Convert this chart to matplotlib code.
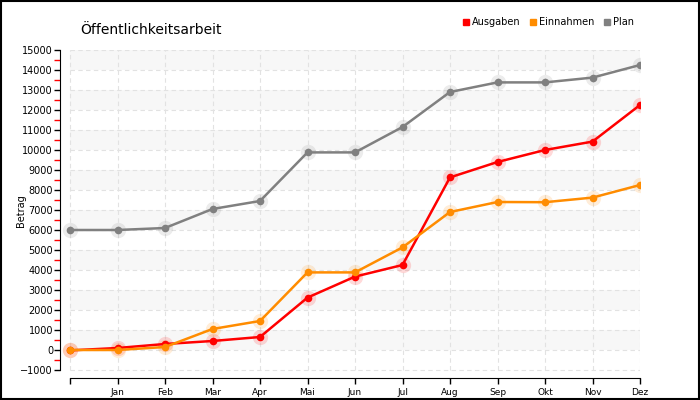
import matplotlib.pyplot as plt
from matplotlib.lines import Line2D
from matplotlib.patches import Rectangle

months = ['', 'Jan', 'Feb', 'Mar', 'Apr', 'Mai', 'Jun', 'Jul', 'Aug', 'Sep', 'Okt', 'Nov', 'Dez']
ausgaben = [-20, 100, 300, 450, 650, 2620, 3670, 4250, 8630, 9400, 10000, 10420, 12250]
einnahmen = [0, 0, 150, 1050, 1450, 3880, 3880, 5130, 6900, 7400, 7390, 7620, 8250]
plan = [6000, 6000, 6100, 7050, 7450, 9880, 9880, 11150, 12900, 13380, 13380, 13620, 14250]

series = [('Ausgaben', ausgaben, '#ff0000'),
          ('Einnahmen', einnahmen, '#ff8c00'),
          ('Plan', plan, '#808080')]

fig = plt.figure(figsize=(7, 4), dpi=100)
fig.patches.append(Rectangle((0.001, 0.002), 0.997, 0.995, transform=fig.transFigure,
                             fill=False, edgecolor='black', linewidth=1.5))
ax = fig.add_axes([60 / 700, 22 / 400, 580 / 700, 328 / 400])

x = list(range(len(months)))
ax.set_xlim(-10 / 47.5, 12)
ax.set_ylim(-1400, 15000)

# alternating bands
for lo in range(0, 15000, 2000):
    ax.fill_between([0, 12], lo, lo + 1000, color='#f7f7f7', zorder=0, linewidth=0)

# grid lines
yt = list(range(-1000, 15001, 1000))
ax.hlines(yt, 0, 12, colors='#e2e2e2', linestyles=(0, (4, 3)), linewidth=0.8, zorder=1)
ax.vlines(x, -1000, 15000, colors='#e2e2e2', linestyles=(0, (4, 3)), linewidth=0.8, zorder=1)

for name, vals, col in series:
    ax.plot(x, vals, 'o', color=col, markersize=11, alpha=0.15, zorder=2, markeredgewidth=0)
    ax.plot(x, vals, '-o', color=col, linewidth=1.8, markersize=5.5, zorder=3, markeredgewidth=0)

for s in ['top', 'right']:
    ax.spines[s].set_visible(False)
ax.spines['left'].set_bounds(-1000, 15000)
ax.spines['bottom'].set_bounds(0, 12)

ax.set_yticks(yt)
ax.set_yticks(list(range(-500, 15000, 1000)), minor=True)
ax.tick_params(axis='y', which='major', length=4, width=1, labelsize=7, pad=1)
ax.tick_params(axis='y', which='minor', length=4, width=1, color='red')
ax.set_xticks(x)
ax.set_xticklabels(months)
ax.tick_params(axis='x', length=4, width=1, labelsize=6.5, pad=3)

ax.set_ylabel('Betrag', fontsize=7)
ax.yaxis.set_label_coords(-0.058, 0.51)

fig.text(80 / 700, 1 - 30 / 400, 'Öffentlichkeitsarbeit', fontsize=10, va='center', ha='left')

handles = [Line2D([], [], marker='s', linestyle='', color=c, markersize=5) for _, _, c in series]
fig.legend(handles, [n for n, _, _ in series], loc='center right',
           bbox_to_anchor=(634 / 700, 1 - 22 / 400), ncol=3, frameon=False,
           fontsize=7, handlelength=0.6, handletextpad=0.3, columnspacing=1.0,
           borderaxespad=0, borderpad=0)

fig.savefig('out.png', dpi=100, facecolor='white')
